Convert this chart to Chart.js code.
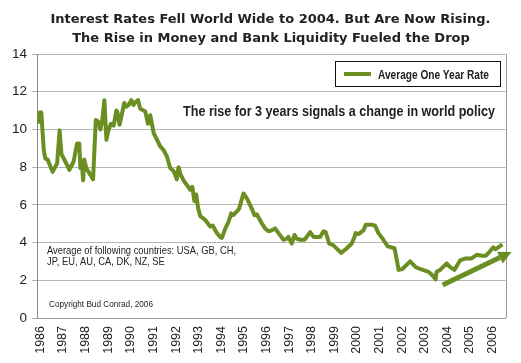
<!DOCTYPE html>
<html lang="en">
<head>
    <meta charset="UTF-8">
    <title>Interest Rates Fell World Wide to 2004</title>
    <style>
        html, body {
            margin: 0;
            padding: 0;
            background: #fff;
        }
        #wrap {
            width: 521px;
            height: 363px;
        }
    </style>
    <script src="https://cdn.jsdelivr.net/npm/chart.js"></script>
</head>
<body>
<div id="wrap"><canvas id="rateChart" width="521" height="363"></canvas></div>

<script>
    // Average one year rate (%)
    const years = [
        1985.88, 1985.96, 1986.04, 1986.15, 1986.22, 1986.32, 1986.54, 1986.74, 1986.85, 1986.93,
        1987.10, 1987.28, 1987.47, 1987.62, 1987.72, 1987.77, 1987.83, 1987.89, 1987.94, 1988.03,
        1988.13, 1988.33, 1988.45, 1988.58, 1988.65, 1988.73, 1988.83, 1988.92, 1989.02, 1989.12,
        1989.24, 1989.36, 1989.40, 1989.50, 1989.71, 1989.80, 1989.90, 1990.02, 1990.12, 1990.20,
        1990.32, 1990.42, 1990.64, 1990.76, 1990.86, 1991.01, 1991.16, 1991.30, 1991.45, 1991.60,
        1991.74, 1991.89, 1992.03, 1992.11, 1992.19, 1992.33, 1992.48, 1992.63, 1992.72, 1992.81,
        1992.89, 1992.98, 1993.07, 1993.29, 1993.51, 1993.62, 1993.81, 1993.95, 1994.03, 1994.18,
        1994.32, 1994.44, 1994.53, 1994.69, 1994.79, 1994.98, 1995.13, 1995.35, 1995.47, 1995.57,
        1995.80, 1995.94, 1996.09, 1996.23, 1996.38, 1996.53, 1996.75, 1996.89, 1996.97, 1997.12,
        1997.24, 1997.34, 1997.49, 1997.68, 1997.93, 1998.08, 1998.37, 1998.52, 1998.62, 1998.77,
        1998.96, 1999.30, 1999.55, 1999.77, 1999.89, 1999.94, 2000.07, 2000.29, 2000.39, 2000.66,
        2000.80, 2000.95, 2001.17, 2001.36, 2001.66, 2001.76, 2001.84, 2002.01, 2002.35, 2002.60,
        2002.79, 2003.16, 2003.31, 2003.48, 2003.52, 2003.68, 2003.97, 2004.12, 2004.31, 2004.56,
        2004.78, 2005.05, 2005.30, 2005.52, 2005.70, 2005.89, 2006.03, 2006.13, 2006.25, 2006.43
    ];
    const rates = [
        10.3, 10.9, 10.9, 8.9, 8.45, 8.4, 7.75, 8.2, 9.95, 8.7,
        8.3, 7.85, 8.3, 9.25, 9.25, 7.95, 8.3, 7.3, 8.4, 7.95,
        7.75, 7.35, 10.5, 10.4, 10.0, 10.4, 11.55, 9.45, 10.0, 10.3,
        10.2, 11.0, 10.95, 10.25, 11.4, 11.2, 11.3, 11.55, 11.3, 11.45,
        11.55, 11.1, 10.95, 10.3, 10.75, 9.8, 9.45, 9.1, 8.9, 8.55,
        7.95, 7.8, 7.35, 8.0, 7.65, 7.3, 7.05, 6.8, 6.95, 6.2,
        6.55, 5.8, 5.4, 5.2, 4.85, 4.9, 4.5, 4.3, 4.25, 4.75,
        5.1, 5.55, 5.45, 5.65, 5.8, 6.6, 6.35, 5.8, 5.45, 5.5,
        5.0, 4.75, 4.6, 4.65, 4.75, 4.5, 4.15, 4.2, 4.3, 3.95,
        4.4, 4.2, 4.15, 4.15, 4.55, 4.3, 4.3, 4.6, 4.55, 3.95,
        3.85, 3.45, 3.7, 3.95, 4.3, 4.5, 4.45, 4.65, 4.95, 4.95,
        4.9, 4.5, 4.15, 3.8, 3.7, 3.1, 2.55, 2.6, 3.0, 2.7,
        2.6, 2.45, 2.3, 2.05, 2.45, 2.55, 2.9, 2.7, 2.55, 3.05,
        3.15, 3.15, 3.35, 3.3, 3.3, 3.55, 3.75, 3.65, 3.75, 3.9
    ];

    // Trend arrow (tail, tip)
    const arrowYears = [2003.79, 2006.84];
    const arrowRates = [1.75, 3.5];

    const yearTicks = [];
    for (let y = 1986; y <= 2006; y++) yearTicks.push(y);
    const rateTicks = [0, 2, 4, 6, 8, 10, 12, 14];

    const titleLines = [
        'Interest Rates Fell World Wide to 2004. But Are Now Rising.',
        'The Rise in Money and Bank Liquidity Fueled the Drop'
    ];
    const seriesName = 'Average One Year Rate';
    const noteText = 'The rise for 3 years signals a change in world policy';
    const countryLines = ['Average of following countries: USA, GB, CH,', 'JP, EU, AU, CA, DK, NZ, SE'];
    const copyrightText = 'Copyright Bud Conrad, 2006';

    const GREEN = '#6b8e23';
    const SANS = "'Liberation Sans', Arial, sans-serif";

    // squeeze text sideways so it fills a given width (the original uses a narrow face)
    function squeezeFactor(ctx, text, width) {
        return Math.min(1, width / ctx.measureText(text).width);
    }
    function drawSqueezed(ctx, text, x, y, k, align) {
        ctx.save();
        ctx.translate(x, y);
        ctx.scale(k, 1);
        ctx.textAlign = align || 'left';
        ctx.fillText(text, 0, 0);
        ctx.restore();
    }

    // Titles, legend box, notes, right border and the arrow
    const decorPlugin = {
        id: 'decor',
        afterDraw(chart) {
            const ctx = chart.ctx;
            const area = chart.chartArea;
            const xs = chart.scales.x;
            const ys = chart.scales.y;
            ctx.save();
            ctx.textBaseline = 'alphabetic';

            // right border
            ctx.strokeStyle = '#999';
            ctx.lineWidth = 1;
            ctx.beginPath();
            ctx.moveTo(Math.round(area.right) + 0.5, area.top);
            ctx.lineTo(Math.round(area.right) + 0.5, area.bottom);
            ctx.stroke();

            // title
            ctx.fillStyle = '#222';
            ctx.font = "bold 13px 'DejaVu Sans', Verdana, sans-serif";
            drawSqueezed(ctx, titleLines[0], 270.5, 23, squeezeFactor(ctx, titleLines[0], 445), 'center');
            drawSqueezed(ctx, titleLines[1], 271, 42, squeezeFactor(ctx, titleLines[1], 420), 'center');

            // legend
            ctx.fillStyle = '#fff';
            ctx.fillRect(335.5, 61.5, 165, 25);
            ctx.strokeStyle = '#111';
            ctx.lineWidth = 1;
            ctx.strokeRect(335.5, 61.5, 165, 25);
            ctx.strokeStyle = GREEN;
            ctx.lineWidth = 4;
            ctx.beginPath();
            ctx.moveTo(344, 74);
            ctx.lineTo(371, 74);
            ctx.stroke();
            ctx.fillStyle = '#222';
            ctx.font = 'bold 12px ' + SANS;
            drawSqueezed(ctx, seriesName, 378, 78.5, squeezeFactor(ctx, seriesName, 111));

            // notes
            ctx.font = 'bold 14px ' + SANS;
            drawSqueezed(ctx, noteText, 183, 116, squeezeFactor(ctx, noteText, 312));
            ctx.font = '11px ' + SANS;
            const k = squeezeFactor(ctx, countryLines[0], 189);
            drawSqueezed(ctx, countryLines[0], 47, 253.5, k);
            drawSqueezed(ctx, countryLines[1], 47, 265, k);
            ctx.font = '9.5px ' + SANS;
            drawSqueezed(ctx, copyrightText, 49, 306.5, squeezeFactor(ctx, copyrightText, 104));

            // arrow
            const x0 = xs.getPixelForValue(arrowYears[0]);
            const y0 = ys.getPixelForValue(arrowRates[0]);
            const x1 = xs.getPixelForValue(arrowYears[1]);
            const y1 = ys.getPixelForValue(arrowRates[1]);
            const ang = Math.atan2(y1 - y0, x1 - x0);
            const headLen = 13, headW = 6.5;
            const bx = x1 - headLen * Math.cos(ang);
            const by = y1 - headLen * Math.sin(ang);
            ctx.strokeStyle = GREEN;
            ctx.fillStyle = GREEN;
            ctx.lineWidth = 5;
            ctx.lineCap = 'butt';
            ctx.beginPath();
            ctx.moveTo(x0, y0);
            ctx.lineTo(bx, by);
            ctx.stroke();
            ctx.beginPath();
            ctx.moveTo(x1, y1);
            ctx.lineTo(bx + headW * Math.sin(ang), by - headW * Math.cos(ang));
            ctx.lineTo(bx - headW * Math.sin(ang), by + headW * Math.cos(ang));
            ctx.closePath();
            ctx.fill();

            ctx.restore();
        }
    };

    const rateData = {
        datasets: [{
            label: seriesName,
            data: years.map((yr, i) => ({ x: yr, y: rates[i] })),
            borderColor: GREEN,
            backgroundColor: GREEN,
            borderWidth: 4,
            borderJoinStyle: 'round',
            pointRadius: 0,
            tension: 0,
            fill: false
        }]
    };

    const config = {
        type: 'line',
        data: rateData,
        options: {
            responsive: false,
            animation: false,
            layout: {
                padding: { top: 54, right: 15.5, left: 0, bottom: 0 }
            },
            plugins: {
                legend: { display: false },
                title: { display: false },
                tooltip: { enabled: false }
            },
            scales: {
                x: {
                    type: 'linear',
                    min: 1985.85,
                    max: 2006.57,
                    afterBuildTicks: scale => {
                        scale.ticks = yearTicks.map(v => ({ value: v }));
                    },
                    afterFit: scale => { scale.height = 45; },
                    grid: { display: false, drawTicks: false },
                    border: { display: true, color: '#999', width: 1 },
                    ticks: {
                        autoSkip: false,
                        minRotation: 90,
                        maxRotation: 90,
                        padding: 8,
                        color: '#222',
                        font: { family: SANS, size: 12.5 },
                        callback: v => String(v)
                    }
                },
                y: {
                    min: 0,
                    max: 14,
                    afterBuildTicks: scale => {
                        scale.ticks = rateTicks.map(v => ({ value: v }));
                    },
                    afterFit: scale => { scale.width = 37; },
                    grid: { color: '#b4b4b4', lineWidth: 1, tickLength: 5, drawTicks: true },
                    border: { display: true, color: '#888', width: 1 },
                    ticks: {
                        padding: 5,
                        color: '#222',
                        font: { family: SANS, size: 13.5 }
                    }
                }
            }
        },
        plugins: [decorPlugin]
    };

    new Chart(document.getElementById('rateChart').getContext('2d'), config);
</script>
</body>
</html>
